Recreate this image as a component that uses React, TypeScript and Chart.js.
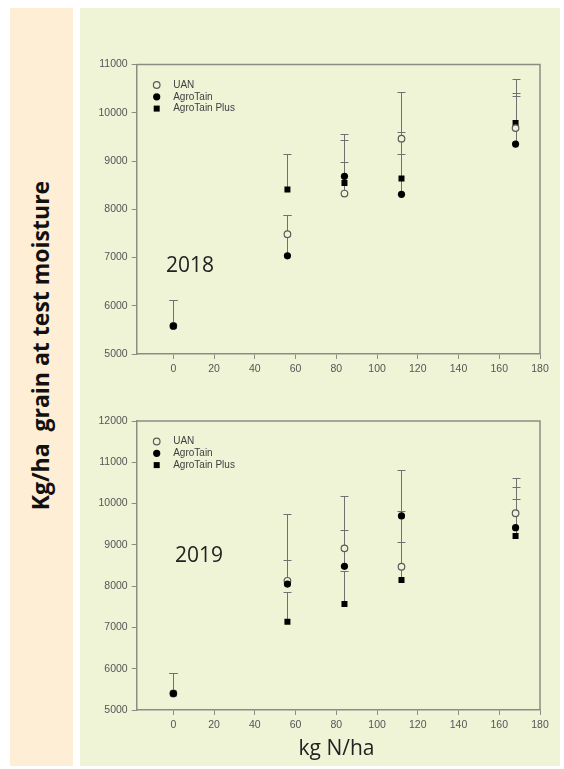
import React, { useEffect, useRef } from "react";
import { Chart, registerables } from "chart.js";

Chart.register(...registerables);

// ---------- data ----------
const nRates = [0, 56, 84, 112, 168];
const xTickValues = [0, 20, 40, 60, 80, 100, 120, 140, 160, 180];
const yTicks2018 = [5000, 6000, 7000, 8000, 9000, 10000, 11000];
const yTicks2019 = [5000, 6000, 7000, 8000, 9000, 10000, 11000, 12000];
const seriesNames = ["UAN", "AgroTain", "AgroTain Plus"];

const uan2018 = [5580, 7483, 8325, 9463, 9682];
const agro2018 = [5580, 7034, 8683, 8310, 9351];
const plus2018 = [5580, 8408, 8545, 8635, 9786];
const uanErr2018 = [6120, 7876, 8973, 10421, 10400];
const agroErr2018 = [6120, 7876, 9566, 9144, 10350];
const plusErr2018 = [6120, 9153, 9428, 9600, 10690];

const uan2019 = [5400, 8130, 8916, 8470, 9766];
const agro2019 = [5400, 8050, 8480, 9700, 9416];
const plus2019 = [5400, 7135, 7565, 8150, 9215];
const uanErr2019 = [5890, 9749, 9353, 9062, 10397];
const agroErr2019 = [5890, 8625, 10193, 10817, 10113];
const plusErr2019 = [5890, 7849, 8373, 9829, 10615];

// ---------- styles ----------
const PEACH = "#FDEED5";
const GREEN = "#EFF4D7";
const AXIS = "#8C8C82";
const TICK_TXT = "#555555";
const ERR = "#707070";
const TICK_FONT = '"Liberation Sans", Arial, sans-serif';
const TEXT_FONT = '"Open Sans", "Noto Sans", sans-serif';

type PanelProps = {
  top: number;
  height: number;
  padTop: number;
  yTicks: number[];
  uan: number[];
  agro: number[];
  plus: number[];
  uanErr: number[];
  agroErr: number[];
  plusErr: number[];
};

function drawMarker(ctx: CanvasRenderingContext2D, kind: number, x: number, y: number) {
  ctx.save();
  if (kind === 0) {
    ctx.beginPath();
    ctx.arc(x, y, 3.3, 0, Math.PI * 2);
    ctx.fillStyle = GREEN;
    ctx.fill();
    ctx.lineWidth = 1.2;
    ctx.strokeStyle = "#5a5a5a";
    ctx.stroke();
  } else if (kind === 1) {
    ctx.beginPath();
    ctx.arc(x, y, 3.6, 0, Math.PI * 2);
    ctx.fillStyle = "#000";
    ctx.fill();
  } else {
    ctx.fillStyle = "#000";
    ctx.fillRect(x - 3, y - 3, 6, 6);
  }
  ctx.restore();
}

function Panel(p: PanelProps) {
  const ref = useRef<HTMLCanvasElement | null>(null);
  useEffect(() => {
    if (!ref.current) return;
    const errSets = [p.uanErr, p.agroErr, p.plusErr];
    const valSets = [p.uan, p.agro, p.plus];

    const errorBars = {
      id: "errorBars",
      beforeDatasetsDraw(chart: any) {
        const ctx = chart.ctx;
        const xs = chart.scales.x;
        const ys = chart.scales.y;
        ctx.save();
        ctx.strokeStyle = ERR;
        ctx.lineWidth = 1;
        valSets.forEach((vals, s) => {
          vals.forEach((v, i) => {
            const px = Math.round(xs.getPixelForValue(nRates[i])) + 0.5;
            const y0 = ys.getPixelForValue(v);
            const y1 = Math.round(ys.getPixelForValue(errSets[s][i])) + 0.5;
            ctx.beginPath();
            ctx.moveTo(px, y0);
            ctx.lineTo(px, y1);
            ctx.moveTo(px - 4, y1);
            ctx.lineTo(px + 4, y1);
            ctx.stroke();
          });
        });
        ctx.restore();
      },
    };

    const frame = {
      id: "frame",
      afterDraw(chart: any) {
        const ctx = chart.ctx;
        const a = chart.chartArea;
        ctx.save();
        ctx.strokeStyle = AXIS;
        ctx.lineWidth = 1.5;
        ctx.beginPath();
        ctx.moveTo(a.left, a.top);
        ctx.lineTo(a.right, a.top);
        ctx.lineTo(a.right, a.bottom);
        ctx.stroke();
        ctx.restore();
      },
    };

    const legend = {
      id: "customLegend",
      afterDraw(chart: any) {
        const ctx = chart.ctx;
        const a = chart.chartArea;
        ctx.save();
        ctx.font = `10px ${TICK_FONT}`;
        ctx.fillStyle = "#404040";
        ctx.textBaseline = "middle";
        ctx.textAlign = "left";
        seriesNames.forEach((name, i) => {
          const y = a.top + 20.5 + i * 11.8;
          drawMarker(ctx, i, a.left + 20, y);
          ctx.fillStyle = "#404040";
          ctx.fillText(name, a.left + 36.5, y);
        });
        ctx.restore();
      },
    };

    const mk = (vals: number[]) => nRates.map((x, i) => ({ x, y: vals[i] }));

    const chart = new Chart(ref.current, {
      type: "scatter",
      data: {
        datasets: [
          {
            label: seriesNames[2],
            data: mk(p.plus),
            pointStyle: "rect",
            pointRadius: 4.24,
            backgroundColor: "#000",
            borderColor: "#000",
            borderWidth: 0,
            order: 2,
          },
          {
            label: seriesNames[0],
            data: mk(p.uan),
            pointStyle: "circle",
            pointRadius: 3.3,
            backgroundColor: GREEN,
            borderColor: "#5a5a5a",
            borderWidth: 1.2,
            order: 1,
          },
          {
            label: seriesNames[1],
            data: mk(p.agro),
            pointStyle: "circle",
            pointRadius: 3.6,
            backgroundColor: "#000",
            borderColor: "#000",
            borderWidth: 0,
            order: 0,
          },
        ],
      },
      options: {
        responsive: false,
        animation: false,
        events: [],
        layout: { padding: { top: p.padTop, right: 20, left: 0, bottom: 0 } },
        plugins: { legend: { display: false }, tooltip: { enabled: false } },
        scales: {
          x: {
            type: "linear",
            min: -18,
            max: 180,
            afterBuildTicks: (s: any) => {
              s.ticks = xTickValues.map((v) => ({ value: v }));
            },
            afterFit: (s: any) => {
              s.height = 26;
            },
            grid: {
              display: true,
              drawOnChartArea: false,
              drawTicks: true,
              tickLength: 5,
              color: AXIS,
              lineWidth: 1,
            },
            border: { display: true, color: AXIS, width: 1.5 },
            ticks: {
              font: { family: TICK_FONT, size: 10.5 },
              color: TICK_TXT,
              padding: 4,
              maxRotation: 0,
              autoSkip: false,
              callback: (v: any) => String(v),
            },
          },
          y: {
            type: "linear",
            min: p.yTicks[0],
            max: p.yTicks[p.yTicks.length - 1],
            afterBuildTicks: (s: any) => {
              s.ticks = p.yTicks.map((v) => ({ value: v }));
            },
            afterFit: (s: any) => {
              s.width = 56.7;
            },
            grid: {
              display: true,
              drawOnChartArea: false,
              drawTicks: true,
              tickLength: 5,
              color: AXIS,
              lineWidth: 1,
            },
            border: { display: true, color: AXIS, width: 1.5 },
            ticks: {
              font: { family: TICK_FONT, size: 10.5 },
              color: TICK_TXT,
              padding: 4,
              autoSkip: false,
              callback: (v: any) => String(v),
            },
          },
        },
      },
      plugins: [errorBars, frame, legend],
    } as any);
    return () => chart.destroy();
  }, []);
  return (
    <canvas
      ref={ref}
      width={480}
      height={p.height}
      style={{ position: "absolute", left: 80, top: p.top, width: 480, height: p.height }}
    />
  );
}

export default function App() {
  return (
    <div
      style={{
        position: "absolute",
        left: 0,
        top: 0,
        width: 564,
        height: 769,
        background: "#ffffff",
        overflow: "hidden",
      }}
    >
      <div style={{ position: "absolute", left: 10, top: 8, width: 63, height: 758, background: PEACH }} />
      <div style={{ position: "absolute", left: 80, top: 8, width: 480, height: 758, background: GREEN }} />
      <Panel
        top={40}
        height={340}
        padTop={24.5}
        yTicks={yTicks2018}
        uan={uan2018}
        agro={agro2018}
        plus={plus2018}
        uanErr={uanErr2018}
        agroErr={agroErr2018}
        plusErr={plusErr2018}
      />
      <Panel
        top={390}
        height={346}
        padTop={31}
        yTicks={yTicks2019}
        uan={uan2019}
        agro={agro2019}
        plus={plus2019}
        uanErr={uanErr2019}
        agroErr={agroErr2019}
        plusErr={plusErr2019}
      />
      <div
        style={{
          position: "absolute",
          left: 140,
          top: 254,
          width: 100,
          textAlign: "center",
          fontFamily: TEXT_FONT,
          fontSize: 21,
          lineHeight: "21px",
          color: "#222",
        }}
      >
        2018
      </div>
      <div
        style={{
          position: "absolute",
          left: 149,
          top: 544,
          width: 100,
          textAlign: "center",
          fontFamily: TEXT_FONT,
          fontSize: 21,
          lineHeight: "21px",
          color: "#222",
        }}
      >
        2019
      </div>
      <div
        style={{
          position: "absolute",
          left: 236.5,
          top: 737,
          width: 200,
          textAlign: "center",
          fontFamily: TEXT_FONT,
          fontSize: 21,
          lineHeight: "21px",
          color: "#222",
          whiteSpace: "pre",
        }}
      >
        kg N/ha
      </div>
      <div
        style={{
          position: "absolute",
          left: 39.8 - 250,
          top: 345 - 11.5,
          width: 500,
          height: 23,
          textAlign: "center",
          fontFamily: TEXT_FONT,
          fontSize: 23,
          fontWeight: 700,
          lineHeight: "23px",
          color: "#111",
          whiteSpace: "pre",
          transform: "rotate(-90deg)",
          transformOrigin: "50% 50%",
        }}
      >
        {"Kg/ha  grain at test moisture"}
      </div>
    </div>
  );
}
